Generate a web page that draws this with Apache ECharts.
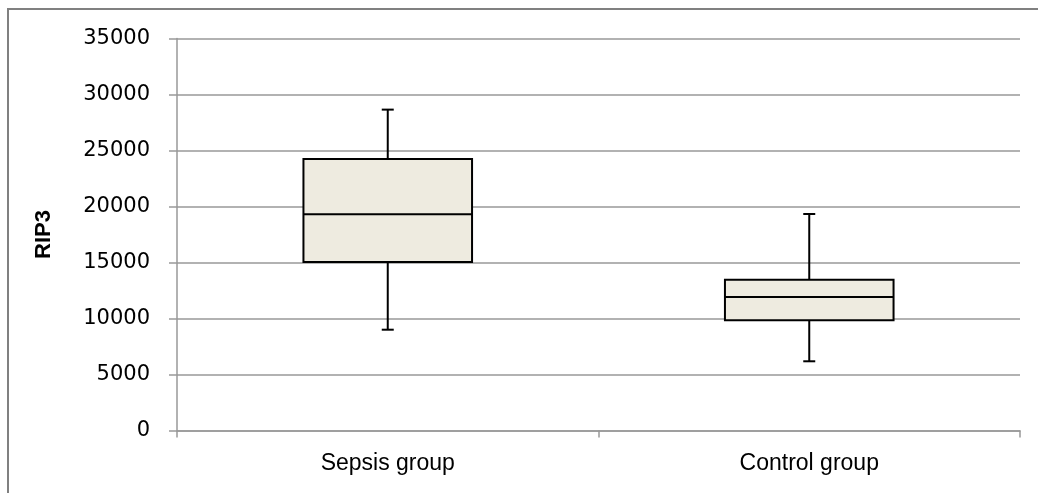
<!DOCTYPE html>
<html>
<head>
<meta charset="utf-8">
<script src="https://cdn.jsdelivr.net/npm/echarts@6/dist/echarts.min.js"></script>
<style>html,body{margin:0;padding:0;background:#fff}#c{width:1038px;height:493px}</style>
</head>
<body>
<div id="c"></div>
<script>
var categories = ['Sepsis group', 'Control group'];
var minVals = [9000, 6180];
var q1Vals = [15050, 9840];
var medianVals = [19300, 11920];
var q3Vals = [24250, 13450];
var maxVals = [28650, 19330];
var yTicks = [0, 5000, 10000, 15000, 20000, 25000, 30000, 35000];

var data = categories.map(function (c, i) {
  return [i, minVals[i], q1Vals[i], medianVals[i], q3Vals[i], maxVals[i]];
});

var chart = echarts.init(document.getElementById('c'));
chart.setOption({
  animation: false,
  graphic: [{
    type: 'rect', shape: { x: 8, y: 9, width: 1200, height: 700 },
    style: { fill: 'none', stroke: '#808080', lineWidth: 2 }, silent: true, z: -1
  }],
  grid: { left: 177, right: 18, top: 38.5, bottom: 62.5 },
  xAxis: {
    type: 'category', data: categories, boundaryGap: true,
    axisLine: { lineStyle: { color: '#999', width: 1.5 } },
    axisTick: { show: true, length: 7, lineStyle: { color: '#999', width: 1.5 } },
    axisLabel: { color: '#000', fontSize: 23, fontFamily: 'Liberation Sans Narrow, Liberation Sans, sans-serif', margin: 22 }
  },
  yAxis: {
    type: 'value', min: yTicks[0], max: yTicks[yTicks.length - 1], interval: 5000,
    name: 'RIP3', nameLocation: 'middle', nameGap: 122, nameRotate: 90,
    nameTextStyle: { color: '#000', fontSize: 22, fontWeight: 'bold', fontFamily: 'Liberation Sans, sans-serif' },
    axisLine: { show: true, lineStyle: { color: '#999', width: 1.5 } },
    axisTick: { show: true, length: 8, lineStyle: { color: '#999', width: 1.5 } },
    splitLine: { lineStyle: { color: '#999', width: 1.5 } },
    axisLabel: { color: '#000', fontSize: 21, fontFamily: 'DejaVu Sans, sans-serif', margin: 27,
      formatter: function (v) { return String(v); } }
  },
  series: [{
    type: 'custom',
    data: data,
    renderItem: function (params, api) {
      var idx = api.value(0);
      var band = api.size([1, 0])[0];
      var bw = band * 0.4;
      var capW = 12;
      var pMin = api.coord([idx, api.value(1)]);
      var pQ1 = api.coord([idx, api.value(2)]);
      var pMed = api.coord([idx, api.value(3)]);
      var pQ3 = api.coord([idx, api.value(4)]);
      var pMax = api.coord([idx, api.value(5)]);
      var x = pMed[0];
      var ls = { stroke: '#000', lineWidth: 2 };
      return {
        type: 'group',
        children: [
          { type: 'line', shape: { x1: x, y1: pQ3[1], x2: x, y2: pMax[1] }, style: ls },
          { type: 'line', shape: { x1: x - capW / 2, y1: pMax[1], x2: x + capW / 2, y2: pMax[1] }, style: ls },
          { type: 'line', shape: { x1: x, y1: pQ1[1], x2: x, y2: pMin[1] }, style: ls },
          { type: 'line', shape: { x1: x - capW / 2, y1: pMin[1], x2: x + capW / 2, y2: pMin[1] }, style: ls },
          { type: 'rect', shape: { x: x - bw / 2, y: pQ3[1], width: bw, height: pQ1[1] - pQ3[1] },
            style: { fill: '#EEEBE0', stroke: '#000', lineWidth: 2 } },
          { type: 'line', shape: { x1: x - bw / 2, y1: pMed[1], x2: x + bw / 2, y2: pMed[1] }, style: ls }
        ]
      };
    }
  }]
});
</script>
</body>
</html>
